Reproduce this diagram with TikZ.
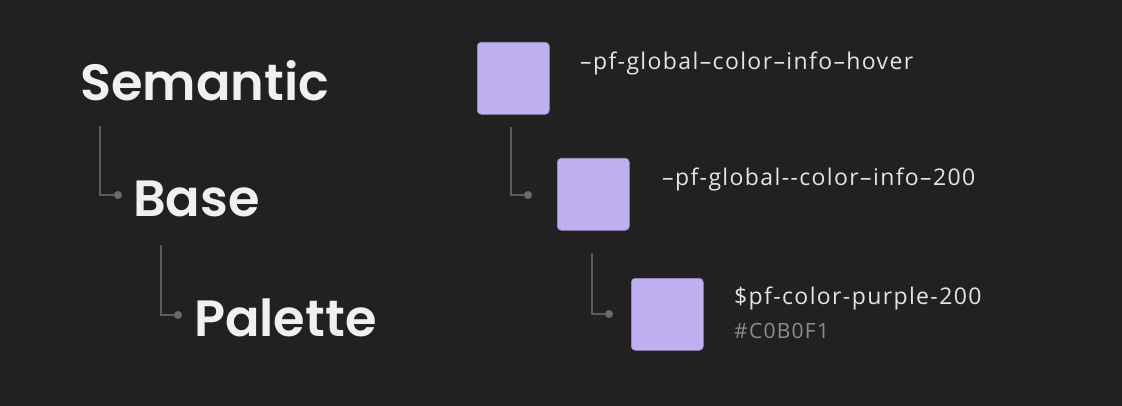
\documentclass[tikz,border=0pt]{standalone}
\usepackage{fontspec}
\setmainfont{Open Sans}
\newfontfamily\headfont{Poppins}[UprightFont=* SemiBold]
\newfontfamily\labelfont{Open Sans}[LetterSpace=6]
\usepackage{tikz}

\definecolor{bgdark}{HTML}{212121}
\definecolor{swatchfill}{HTML}{C0B0F1}
\definecolor{linegrey}{HTML}{5C5C5C}
\definecolor{dotgrey}{HTML}{6A6A6A}
\definecolor{headtext}{HTML}{F0F0F0}
\definecolor{labeltext}{HTML}{E4E4E4}
\definecolor{hextext}{HTML}{8C8C8C}

\tikzset{
  heading/.style={anchor=base west, inner sep=0pt, text=headtext, font=\headfont\fontsize{51}{56}\selectfont},
  tokenlabel/.style={anchor=base west, inner sep=0pt, text=labeltext, font=\labelfont\fontsize{23}{27}\selectfont},
  hexlabel/.style={anchor=base west, inner sep=0pt, text=hextext, font=\labelfont\fontsize{21}{25}\selectfont},
  swatch/.style={draw=swatchfill!80!black, line width=0.6pt, fill=swatchfill, rounded corners=4pt, minimum size=72pt, inner sep=0pt, anchor=north west},
  conn/.style={draw=linegrey, line width=1.2pt},
  dotmark/.style={circle, fill=dotgrey, minimum size=8pt, inner sep=0pt},
}

\begin{document}
\begin{tikzpicture}[x=1pt,y=-1pt]
%background and frame
\fill[bgdark] (0,0) rectangle (1122,406);
\useasboundingbox (0,0) rectangle (1122,406);

% Levels
\node[heading] (sem) at (80,101) {Semantic};
\node[heading] (base) at (133,217) {Base};
\node[heading] (pal) at (194,336) {Palette};

% Swatches
\node[swatch] (sw1) at (477,42) {};
\node[swatch] (sw2) at (557,158) {};
\node[swatch] (sw3) at (631,278) {};

% Token names
\node[tokenlabel] (lab1) at (580,70) {–pf-global–color–info–hover};
\node[tokenlabel] (lab2) at (662,186) {–pf-global-{}-color–info–200};
\node[tokenlabel] (lab3) at (734,305) {\$pf-color-purple-200};
\node[hexlabel] (hex) at (734,338) {\#C0B0F1};

% Dots
\node[dotmark] (d1) at (118,195) {};
\node[dotmark] (d2) at (178,315) {};
\node[dotmark] (d3) at (528,195) {};
\node[dotmark] (d4) at (609,314) {};

%Connector starts
\coordinate (s1) at (100,126);
\coordinate (s2) at (161,245);
\coordinate (s3) at (511,127);
\coordinate (s4) at (592,253);

\draw[conn] (s1) |- (d1);
\draw[conn] (s2) |- (d2);
\draw[conn] (s3) |- (d3);
\draw[conn] (s4) |- (d4);

\end{tikzpicture}
\end{document}
